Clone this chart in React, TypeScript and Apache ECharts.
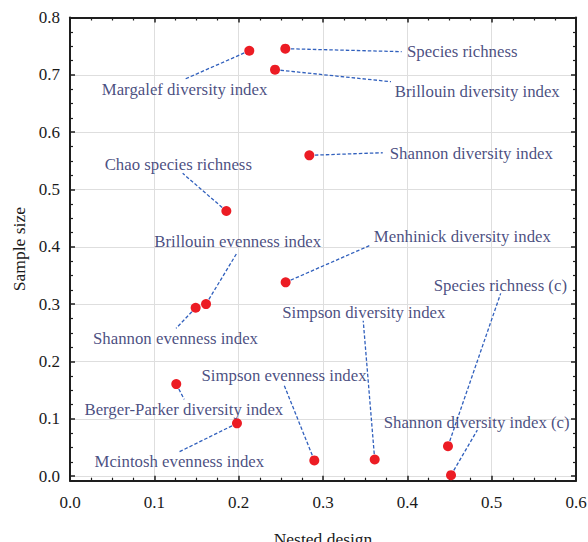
import React, { useEffect, useRef } from "react";
import * as echarts from "echarts";

const names = [
  "Margalef diversity index",
  "Species richness",
  "Brillouin diversity index",
  "Shannon diversity index",
  "Chao species richness",
  "Menhinick diversity index",
  "Shannon evenness index",
  "Brillouin evenness index",
  "Berger-Parker diversity index",
  "Mcintosh evenness index",
  "Simpson evenness index",
  "Simpson diversity index",
  "Species richness (c)",
  "Shannon diversity index (c)",
];
const nestedDesign = [0.2126, 0.2553, 0.2431, 0.2838, 0.1854, 0.2557, 0.149, 0.1613, 0.126, 0.198, 0.2897, 0.3613, 0.4482, 0.4518];
const sampleSize = [0.742, 0.7456, 0.709, 0.5596, 0.4624, 0.338, 0.2937, 0.3001, 0.1605, 0.092, 0.0274, 0.029, 0.0523, 0.0017];

// annotation text centres (data units)
const labelX = [0.1358, 0.4651, 0.4829, 0.4759, 0.1284, 0.4652, 0.1251, 0.1989, 0.135, 0.1296, 0.2538, 0.3484, 0.5103, 0.4822];
const labelY = [0.6748, 0.7404, 0.6706, 0.5631, 0.5444, 0.4188, 0.2402, 0.4088, 0.1157, 0.025, 0.175, 0.285, 0.332, 0.0937];
// leader line ends (data units)
const leaderX = [0.1364, 0.3933, 0.3806, 0.3708, 0.1336, 0.3549, 0.1257, 0.1977, 0.1355, 0.1296, 0.2534, 0.3477, 0.5107, 0.483];
const leaderY = [0.6927, 0.7404, 0.688, 0.5641, 0.5282, 0.4019, 0.2577, 0.3886, 0.1338, 0.0424, 0.1605, 0.271, 0.3188, 0.0803];

const xRange = [0, 0.6];
const yRange = [-0.008, 0.8];

const FONT = "Liberation Serif";
const AXIS_COLOR = "#1e1e1e";

export default function App() {
  const ref = useRef<HTMLDivElement>(null);
  useEffect(() => {
    if (!ref.current) return;
    const chart = echarts.init(ref.current, null, { renderer: "svg" });
    const axisCommon = {
      axisLine: { show: true, onZero: false, lineStyle: { color: AXIS_COLOR, width: 2 } },
      axisTick: { show: true, inside: true, length: 5, lineStyle: { color: AXIS_COLOR, width: 1.5 } },
      minorTick: { show: true, splitNumber: 4, length: 3, lineStyle: { color: AXIS_COLOR, width: 1.2 } },
    };
    const fmt = (v: number) => v.toFixed(1);
    chart.setOption({
      animation: false,
      textStyle: { fontFamily: FONT },
      grid: { left: 70, right: 12, top: 17.5, bottom: 61.3, containLabel: false, outerBoundsMode: "none" },
      xAxis: [
        {
          type: "value",
          min: xRange[0],
          max: xRange[1],
          interval: 0.1,
          position: "bottom",
          ...axisCommon,
          splitLine: { show: true, lineStyle: { color: "#dedede", width: 1 } },
          axisLabel: { color: "#1a1a1a", fontFamily: FONT, fontSize: 17, margin: 13, formatter: fmt },
          name: "Nested design",
          nameLocation: "middle",
          nameGap: 49,
          nameTextStyle: { color: "#1a1a1a", fontFamily: FONT, fontSize: 17.5 },
        },
        {
          type: "value",
          min: xRange[0],
          max: xRange[1],
          interval: 0.1,
          position: "top",
          ...axisCommon,
          splitLine: { show: false },
          axisLabel: { show: false },
        },
      ],
      yAxis: [
        {
          type: "value",
          min: yRange[0],
          max: yRange[1],
          splitNumber: 8,
          position: "left",
          ...axisCommon,
          splitLine: { show: true, lineStyle: { color: "#dedede", width: 1 } },
          axisLabel: { color: "#1a1a1a", fontFamily: FONT, fontSize: 17, margin: 10, formatter: fmt, showMinLabel: false },
          name: "Sample size",
          nameLocation: "middle",
          nameGap: 41,
          nameTextStyle: { color: "#1a1a1a", fontFamily: FONT, fontSize: 17.5 },
        },
        {
          type: "value",
          min: yRange[0],
          max: yRange[1],
          splitNumber: 8,
          position: "right",
          ...axisCommon,
          splitLine: { show: false },
          axisLabel: { show: false },
        },
      ],
      series: [
        {
          type: "lines",
          coordinateSystem: "cartesian2d",
          silent: true,
          z: 2,
          lineStyle: { color: "#3160bd", width: 1.3, type: [3.5, 2], opacity: 1 },
          data: names.map((_, i) => ({
            coords: [
              [nestedDesign[i], sampleSize[i]],
              [leaderX[i], leaderY[i]],
            ],
          })),
        },
        {
          type: "scatter",
          z: 3,
          symbolSize: 10,
          itemStyle: { color: "#ec1c24", opacity: 1 },
          data: names.map((n, i) => ({ name: n, value: [nestedDesign[i], sampleSize[i]] })),
        },
        {
          type: "scatter",
          z: 4,
          symbolSize: 0,
          silent: true,
          label: {
            show: true,
            position: "inside",
            formatter: (p: any) => p.name,
            color: "#18225f",
            fontFamily: FONT,
            fontSize: 16.8,
          },
          data: names.map((n, i) => ({ name: n, value: [labelX[i], labelY[i]] })),
        },
      ],
    });
    return () => chart.dispose();
  }, []);
  return <div ref={ref} style={{ width: 588, height: 542, position: "absolute", left: 0, top: 0 }} />;
}
